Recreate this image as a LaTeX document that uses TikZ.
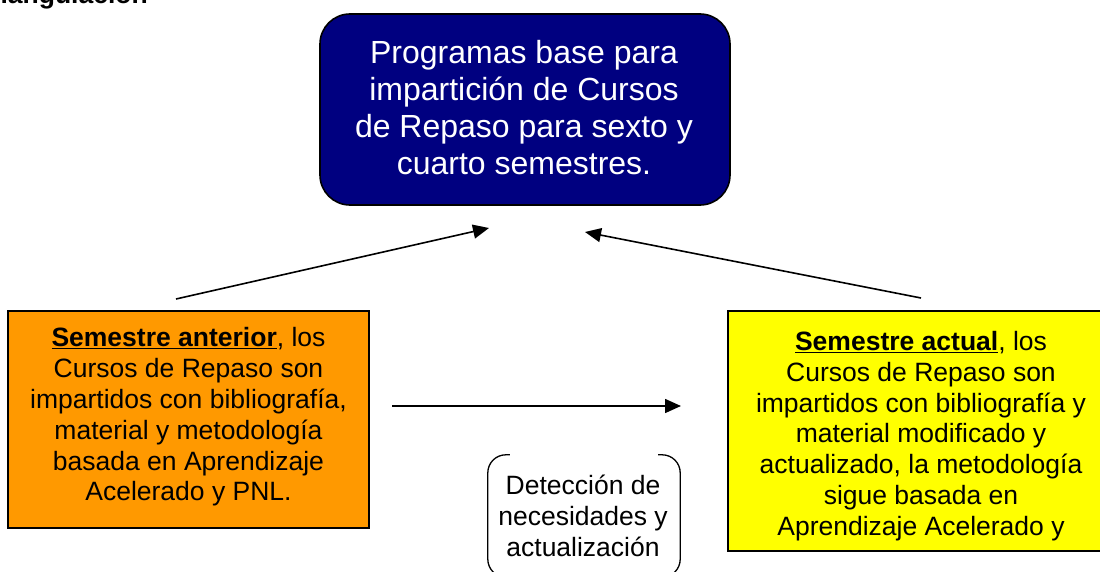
\documentclass[tikz,border=0pt]{standalone}
\usepackage{fontspec}
\setmainfont{Liberation Sans}
\usetikzlibrary{arrows.meta,calc}
\definecolor{navybox}{HTML}{000080}
\definecolor{orangebox}{HTML}{FF9900}
\definecolor{yellowbox}{HTML}{FFFF00}
\begin{document}
\begin{tikzpicture}[x=1pt,y=-1pt,
  bodytext/.style={align=center,inner sep=0pt,font=\fontsize{26.5}{30.8}\selectfont},
  boxframe/.style={draw=black,line width=1.6pt,inner sep=0pt},
  conn/.style={line width=1.6pt,-{Triangle[length=16pt,width=14pt]}},
  brack/.style={line width=1.3pt,rounded corners=18pt}]
\useasboundingbox (0,0) rectangle (1100,572);
\clip (0,0) rectangle (1100,572);
% clipped heading
\node[anchor=base east,inner sep=0pt,font=\fontsize{26.5}{30}\selectfont\bfseries] (head) at (148,4) {Triangulación};
% top box
\node[boxframe,fill=navybox,rounded corners=30pt,minimum width=410,minimum height=191] (top) at (525,109.5) {};
\node[bodytext,text=white,font=\fontsize{32}{37}\selectfont] (toptext) at (524,108)
  {Programas base para\\impartición de Cursos\\de Repaso para sexto y\\cuarto semestres.};
% left box
\node[boxframe,fill=orangebox,minimum width=361,minimum height=217] (left) at (188.5,419.5) {};
\node[bodytext] (lefttext) at (188.5,417)
  {\underline{\textbf{Semestre anterior}}, los\\Cursos de Repaso son\\impartidos con bibliografía,\\material y metodología\\basada en Aprendizaje\\Acelerado y PNL.};
% right box
\node[boxframe,fill=yellowbox,minimum width=386,minimum height=240] (right) at (921,431) {};
\node[bodytext] (righttext) at (921,436)
  {\underline{\textbf{Semestre actual}}, los\\Cursos de Repaso son\\impartidos con bibliografía y\\material modificado y\\actualizado, la metodología\\sigue basada en\\Aprendizaje Acelerado y};
% bracket note
\node[minimum width=192,minimum height=122,inner sep=0pt] (det) at (584,516) {};
\node[bodytext] (dettext) at (583,516) {Detección de\\necesidades y\\actualización};
\draw[brack] ([xshift=22pt]det.north west) -- (det.north west) -- (det.south west) -- ([xshift=22pt]det.south west);
\draw[brack] ([xshift=-22pt]det.north east) -- (det.north east) -- (det.south east) -- ([xshift=-22pt]det.south east);
% connectors
\coordinate (la) at (176,299);
\coordinate (lb) at (489,228);
\coordinate (ra) at (921,298);
\coordinate (rb) at (585,232);
\coordinate (ma) at (392,406);
\coordinate (mb) at (681,406);
\draw[conn] (la) -- (lb);
\draw[conn] (ra) -- (rb);
\draw[conn] (ma) -- (mb);
\end{tikzpicture}
\end{document}
